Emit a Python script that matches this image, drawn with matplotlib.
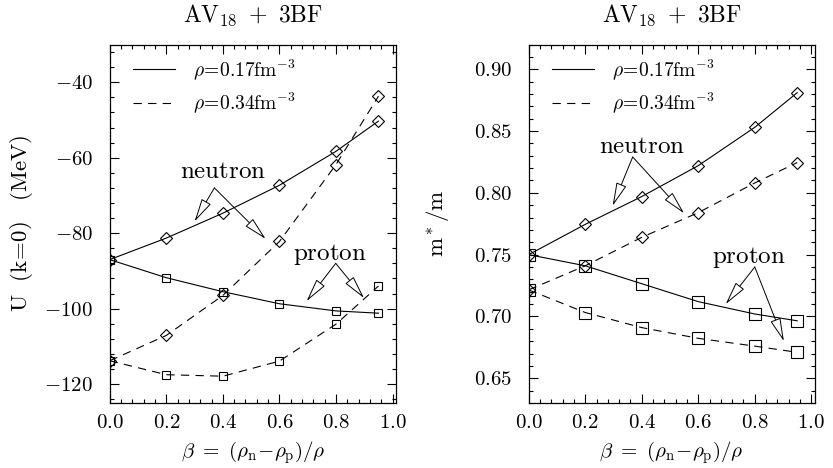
import matplotlib
matplotlib.use('Agg')
import matplotlib.pyplot as plt
from matplotlib.lines import Line2D
from matplotlib.ticker import MultipleLocator

plt.rcParams['font.family'] = 'cmr10'
plt.rcParams['mathtext.fontset'] = 'cm'
plt.rcParams['axes.formatter.use_mathtext'] = True
plt.rcParams['lines.scale_dashes'] = False
plt.rcParams['axes.unicode_minus'] = True

# asymmetry parameter
beta = [0.0, 0.2, 0.4, 0.6, 0.8, 0.95]

# single particle potential U(k=0) in MeV
u_n_017 = [-87.0, -81.3, -74.7, -67.3, -58.3, -50.3]
u_p_017 = [-87.0, -91.8, -95.5, -98.7, -100.6, -101.2]
u_n_034 = [-113.8, -107.1, -96.5, -82.2, -61.8, -43.7]
u_p_034 = [-113.8, -117.5, -117.9, -113.9, -104.1, -94.0]

# effective mass m*/m
m_n_017 = [0.750, 0.7745, 0.797, 0.822, 0.853, 0.881]
m_p_017 = [0.750, 0.741, 0.7265, 0.712, 0.702, 0.6965]
m_n_034 = [0.7215, 0.741, 0.764, 0.784, 0.808, 0.8245]
m_p_034 = [0.7215, 0.7032, 0.691, 0.6823, 0.676, 0.671]

title = r'$\mathrm{AV_{18}\ +\ 3BF}$'
xlab = r'$\beta\ =\ (\rho_\mathrm{n}\!-\!\rho_\mathrm{p})/\rho$'
lab017 = r'$\rho\!=\!0.17\mathrm{fm}^{-3}$'
lab034 = r'$\rho\!=\!0.34\mathrm{fm}^{-3}$'
dash = (6, 4.5)
lw = 0.8

fig = plt.figure(figsize=(8.33, 4.68), dpi=100)
W, H = 833.0, 468.0
ax1 = fig.add_axes([109.7/W, 1-403/H, (396-109.7)/W, (403-44.5)/H])
ax2 = fig.add_axes([528.7/W, 1-403/H, (814.7-528.7)/W, (403-44.5)/H])


def draw(ax, n17, p17, n34, p34, ms_d, ms_s):
    ax.plot(beta, n17, '-', color='k', lw=lw, marker='D', ms=ms_d, mfc='none', mec='k', mew=0.8)
    ax.plot(beta, p17, '-', color='k', lw=lw, marker='s', ms=ms_s, mfc='none', mec='k', mew=0.8)
    ax.plot(beta, n34, '--', color='k', lw=lw, dashes=dash, marker='D', ms=ms_d, mfc='none', mec='k', mew=0.8)
    ax.plot(beta, p34, '--', color='k', lw=lw, dashes=dash, marker='s', ms=ms_s, mfc='none', mec='k', mew=0.8)
    ax.set_xlim(0, 1.012)
    ax.xaxis.set_major_locator(MultipleLocator(0.2))
    ax.xaxis.set_minor_locator(MultipleLocator(0.04))
    ax.tick_params(which='both', direction='in', top=True, right=True, labelsize=15, width=0.8)
    ax.tick_params(which='major', length=6.5)
    ax.tick_params(which='minor', length=3)
    ax.tick_params(axis='x', pad=8)
    ax.tick_params(axis='y', pad=12)
    for s in ax.spines.values():
        s.set_linewidth(0.9)
    ax.set_title(title, fontsize=17, pad=16)
    ax.set_xlabel(xlab, fontsize=15)
    ax.xaxis.set_label_coords(0.5, -0.10)
    ax.xaxis.label.set_va('top')
    handles = [Line2D([], [], color='k', lw=lw),
               Line2D([], [], color='k', lw=lw, ls='--', dashes=dash)]
    ax.legend(handles, [lab017, lab034], loc='upper left', frameon=False, fontsize=14,
              handlelength=2.2, handletextpad=0.9, labelspacing=0.45,
              bbox_to_anchor=(0.08, 0.965), borderaxespad=0, borderpad=0)


def arrows(ax, label, txt, origin, targets):
    ax.text(txt[0], txt[1], label, fontsize=18, ha='center', va='center')
    for t in targets:
        ax.annotate('', xy=t, xytext=origin,
                    arrowprops=dict(arrowstyle='-|>,head_length=1.05,head_width=0.24',
                                    fc='white', ec='k', lw=0.7, shrinkA=0, shrinkB=0,
                                    mutation_scale=14))


draw(ax1, u_n_017, u_p_017, u_n_034, u_p_034, 6.2, 5.4)
ax1.set_ylim(-125, -30)
ax1.yaxis.set_major_locator(MultipleLocator(20))
ax1.yaxis.set_minor_locator(MultipleLocator(4))
ax1.set_ylabel(r'$\mathrm{U\ \ (k\!=\!0)\ \ \ (MeV)}$', fontsize=16.5)
ax1.yaxis.set_label_coords(-0.262, 0.5)
arrows(ax1, r'$\mathrm{neutron}$', (0.401, -63.8), (0.370, -68.0), [(0.300, -76.9), (0.551, -81.5)])
arrows(ax1, r'$\mathrm{proton}$', (0.779, -85.7), (0.799, -88.0), [(0.696, -98.0), (0.899, -97.2)])

draw(ax2, m_n_017, m_p_017, m_n_034, m_p_034, 6.2, 8.4)
ax2.set_ylim(0.63, 0.92)
ax2.yaxis.set_major_locator(MultipleLocator(0.05))
ax2.yaxis.set_minor_locator(MultipleLocator(0.01))
ax2.set_ylabel(r'$\mathrm{m}^*/\mathrm{m}$', fontsize=16.5)
ax2.yaxis.set_label_coords(-0.27, 0.5)
arrows(ax2, r'$\mathrm{neutron}$', (0.403, 0.8371), (0.368, 0.829), [(0.297, 0.7895), (0.550, 0.7834)])
arrows(ax2, r'$\mathrm{proton}$', (0.780, 0.748), (0.800, 0.740), [(0.697, 0.710), (0.903, 0.680)])

fig.savefig('out.png', dpi=100)
